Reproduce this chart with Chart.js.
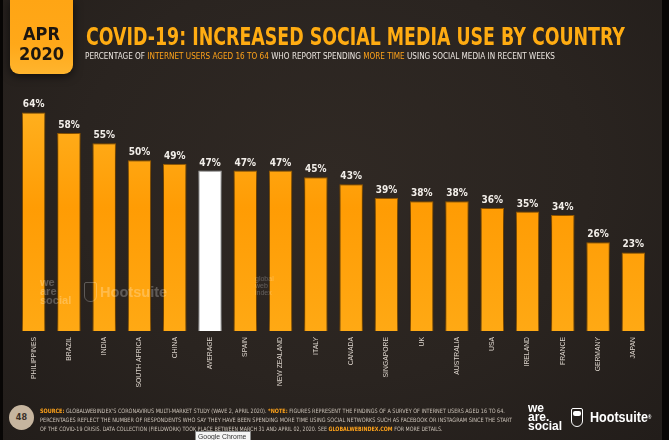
<!DOCTYPE html>
<html>
<head>
<meta charset="utf-8">
<script src="https://cdn.jsdelivr.net/npm/chart.js@4.4.1/dist/chart.umd.min.js"></script>
<style>
  html, body { margin: 0; padding: 0; }
  body { width: 669px; height: 440px; background: #080605; position: relative; overflow: hidden;
         font-family: 'Liberation Sans Narrow', 'DejaVu Sans Condensed', sans-serif; }
  #slide { position: absolute; left: 3px; top: 0; width: 659px; height: 440px;
           background: radial-gradient(ellipse at 50% 40%, #302924 0%, #2a2420 55%, #221d1a 100%); }
  canvas { position: absolute; left: 0; top: 0; }
  .abs { position: absolute; white-space: nowrap; transform-origin: 0 0; }
  .tab { position: absolute; left: 10px; top: 0; width: 63px; height: 74px; border-radius: 0 0 9px 9px;
         background: linear-gradient(180deg, #ffa514 0%, #ffa819 60%, #ffb52e 100%);
         box-shadow: 0 2px 10px rgba(0,0,0,0.6); }
  .tab div { position: absolute; left: 0; width: 63px; text-align: center; font-weight: bold;
             font-size: 18px; line-height: 17px; color: #1c1610; }
  #title { left: 86px; top: 25px; font-size: 24px; line-height: 24px; font-weight: bold; color: #ffac12; }
  #subtitle { left: 85px; top: 52px; font-size: 9px; line-height: 9px; color: #ece6e0; }
  .or { color: #ffa31a; }
  .foot { left: 40px; font-size: 6px; line-height: 6px; color: #c9c0b6; }
  .foot b { color: #ffa31a; }
  .wm { color: rgba(255,255,255,0.25); font-weight: bold; font-family: 'Liberation Sans', sans-serif; }
</style>
</head>
<body>
<div id="slide"></div>
<canvas id="chart" width="669" height="440"></canvas>

<div class="tab"><div style="top:25px">APR</div><div style="top:45px">2020</div></div>
<div id="title" class="abs">COVID-19: INCREASED SOCIAL MEDIA USE BY COUNTRY</div>
<div id="subtitle" class="abs">PERCENTAGE OF <span class="or">INTERNET USERS AGED 16 TO 64</span> WHO REPORT SPENDING <span class="or">MORE TIME</span> USING SOCIAL MEDIA IN RECENT WEEKS</div>

<!-- faint watermarks inside the bars -->
<div class="abs wm" style="left:40px;top:278px;font-size:11px;line-height:9px;">we<br>are<br>social</div>
<div class="abs wm" style="left:84px;top:282px;width:11px;height:18px;border:1.5px solid rgba(255,255,255,0.25);border-radius:2px 2px 6px 6px;"></div>
<div class="abs wm" id="wmHoot" style="left:100px;top:284px;font-size:15px;line-height:15px;">Hootsuite</div>
<div class="abs wm" style="left:255px;top:275px;font-size:7px;line-height:7px;font-weight:normal;">global<br>web<br>index</div>

<!-- footer -->
<div class="abs" style="left:9px;top:405px;width:25px;height:25px;border-radius:50%;background:#c6b59f;
     color:#3b3027;font-weight:bold;font-size:9px;line-height:25px;text-align:center;">48</div>
<div class="abs foot" id="f1" style="top:408px"><b>SOURCE:</b> GLOBALWEBINDEX'S CORONAVIRUS MULTI-MARKET STUDY (WAVE 2, APRIL 2020). <b>*NOTE:</b> FIGURES REPRESENT THE FINDINGS OF A SURVEY OF INTERNET USERS AGED 16 TO 64.</div>
<div class="abs foot" id="f2" style="top:417px">PERCENTAGES REFLECT THE NUMBER OF RESPONDENTS WHO SAY THEY HAVE BEEN SPENDING MORE TIME USING SOCIAL NETWORKS SUCH AS FACEBOOK OR INSTAGRAM SINCE THE START</div>
<div class="abs foot" id="f3" style="top:426px">OF THE COVID-19 CRISIS. DATA COLLECTION (FIELDWORK) TOOK PLACE BETWEEN MARCH 31 AND APRIL 02, 2020. SEE <b>GLOBALWEBINDEX.COM</b> FOR MORE DETAILS.</div>

<div class="abs" style="left:528px;top:404px;font-family:'Liberation Sans',sans-serif;font-weight:bold;font-size:12px;line-height:9px;color:#fff;">we<br>are.<br>social</div>
<div class="abs" style="left:571px;top:408px;width:10px;height:17px;border:1.5px solid #fff;border-radius:2px 2px 6px 6px;">
  <div style="position:absolute;left:1px;top:2px;width:8px;height:5px;background:#fff;border-radius:2px;"></div>
</div>
<div class="abs" id="hoot" style="left:590px;top:410px;font-family:'Liberation Sans',sans-serif;font-weight:bold;font-size:14px;line-height:14px;color:#fff;">Hootsuite<span style="font-size:5px;vertical-align:top;">®</span></div>

<div class="abs" style="left:195px;top:431px;width:54px;height:12px;background:#f4f4f4;border:1px solid #888;"></div>
<div class="abs" id="chrome" style="left:198px;top:432px;font-family:'Liberation Sans',sans-serif;font-size:8px;line-height:10px;color:#333;">Google Chrome</div>

<script>
const countries = ['PHILIPPINES', 'BRAZIL', 'INDIA', 'SOUTH AFRICA', 'CHINA', 'AVERAGE', 'SPAIN',
    'NEW ZEALAND', 'ITALY', 'CANADA', 'SINGAPORE', 'UK', 'AUSTRALIA', 'USA', 'IRELAND', 'FRANCE',
    'GERMANY', 'JAPAN'];
const shares = [64, 58, 55, 50, 49, 47, 47, 47, 45, 43, 39, 38, 38, 36, 35, 34, 26, 23];
const highlight = 'AVERAGE';

// squeeze text blocks to the widths of the original slide
function fitWidth(id, w) {
    const el = document.getElementById(id);
    el.style.transform = 'scaleX(' + (w / el.scrollWidth) + ')';
}
fitWidth('title', 539);
fitWidth('subtitle', 470);
fitWidth('f1', 465);
fitWidth('f2', 472);
fitWidth('f3', 403);
fitWidth('hoot', 61);
fitWidth('wmHoot', 67);
fitWidth('chrome', 48);

const barShadow = {
    id: 'barShadow',
    beforeDatasetsDraw(chart) {
        const ctx = chart.ctx;
        ctx.save();
        ctx.shadowColor = 'rgba(0, 0, 0, 1)';
        ctx.shadowBlur = 20;
    },
    afterDatasetsDraw(chart) {
        chart.ctx.restore();
    }
};

const valueLabels = {
    id: 'valueLabels',
    afterDatasetsDraw(chart) {
        const ctx = chart.ctx;
        const meta = chart.getDatasetMeta(0);
        ctx.save();
        ctx.font = 'bold 10px "Liberation Sans Narrow", "DejaVu Sans Condensed", sans-serif';
        ctx.fillStyle = '#f2eee9';
        ctx.textAlign = 'center';
        ctx.textBaseline = 'alphabetic';
        meta.data.forEach((bar, i) => {
            ctx.fillText(shares[i] + '%', bar.x, bar.y - 5);
        });
        ctx.restore();
    }
};

function barFill(context) {
    if (countries[context.dataIndex] === highlight) return '#ffffff';
    const area = context.chart.chartArea;
    if (!area) return '#ffa10a';
    const g = context.chart.ctx.createLinearGradient(0, area.top + 15, 0, area.bottom);
    g.addColorStop(0, '#ffb01f');
    g.addColorStop(0.45, '#ff9c04');
    g.addColorStop(1, '#ffa914');
    return g;
}

new Chart(document.getElementById('chart'), {
    type: 'bar',
    data: {
        labels: countries,
        datasets: [{
            data: shares,
            backgroundColor: barFill,
            borderColor: countries.map(c => c === highlight ? '#d8d8d8' : '#c27400'),
            borderWidth: 1,
            barPercentage: 0.667,
            categoryPercentage: 1
        }]
    },
    options: {
        responsive: false,
        animation: false,
        layout: { padding: { left: 16, right: 18, top: 92, bottom: 0 } },
        plugins: {
            legend: { display: false },
            tooltip: { enabled: false }
        },
        scales: {
            y: {
                display: false,
                min: 0,
                max: 70
            },
            x: {
                grid: { display: false, drawTicks: false },
                border: { display: false },
                afterFit: function(scale) { scale.height = 109; },
                ticks: {
                    autoSkip: false,
                    minRotation: 90,
                    maxRotation: 90,
                    padding: 6,
                    color: '#dcd4cc',
                    font: { family: '"Liberation Sans", sans-serif', size: 6.8 }
                }
            }
        }
    },
    plugins: [barShadow, valueLabels]
});
</script>
</body>
</html>
